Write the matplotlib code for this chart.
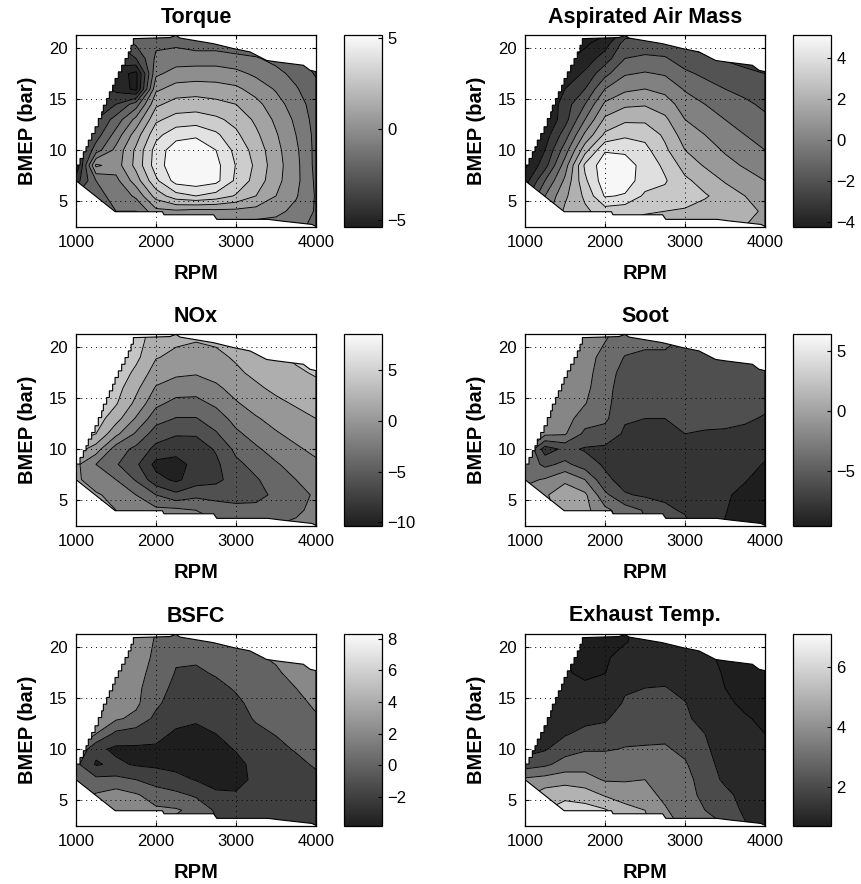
import numpy as np
import matplotlib.pyplot as plt
from matplotlib.path import Path
from matplotlib.patches import PathPatch
from matplotlib.colors import LinearSegmentedColormap, Normalize
from matplotlib.cm import ScalarMappable

plt.rcParams['font.family'] = ['Liberation Sans', 'DejaVu Sans']
plt.rcParams['contour.negative_linestyle'] = 'solid'

# grid of the map: one list per RPM column, values over BMEP
rpm = [1000, 1250, 1500, 1750, 2000, 2250, 2500, 2750, 3000, 3250, 3500, 3750, 4000]
bmep = [2.5, 4, 5.5, 7, 8.5, 10, 11.5, 13, 14.5, 16, 17.5, 19, 20.5, 22]

# operating envelope of the engine
# lower edge + right edge + top edge (1000 rpm tip -> top left corner)
env_rpm = [1000, 1490, 2080, 2100, 2720, 2760, 3400, 3550, 3950, 4000, 4000, 3925,
           3842, 3508, 3383, 3175, 2967, 2717, 2300, 2250, 2175]
env_bmep = [7.0, 3.95, 3.95, 3.65, 3.65, 3.2, 3.2, 3.05, 2.7, 2.5, 17.7, 17.84,
            18.33, 18.66, 18.8, 19.64, 19.97, 20.45, 21.0, 21.27, 21.05]
# stepped full-load edge on the left side
stair_rpm = [1000, 1050, 1092, 1125, 1154, 1196, 1238, 1279, 1321, 1342, 1383,
             1417, 1458, 1488, 1529, 1571, 1613, 1654, 1688, 1717, 1750]
stair_bmep = [7.71, 8.53, 9.18, 9.84, 10.33, 10.98, 11.63, 12.29, 13.1, 13.76, 14.41,
              15.07, 15.72, 16.37, 17.03, 17.68, 18.33, 18.99, 19.64, 20.29, 20.95]

torque = [
    [-2.0, -2.0, -2.0, -3.5, -5.0, -4.0, -4.0, -4.0, -4.0, -4.0, -4.0, -4.0, -4.0, -4.0],
    [-2.0, -1.5, -1.2, -1.0, 1.2, -1.5, -2.5, -3.0, -3.0, -3.0, -3.0, -3.0, -3.0, -3.0],
    [-2.0, -1.0, -0.8, -0.3, 0.5, 0.3, -0.6, -1.6, -3.0, -4.3, -4.5, -3.5, -3.0, -3.0],
    [-2.0, -1.0, 0.2, 1.5, 2.3, 2.2, 1.5, 0.3, -1.5, -5.3, -5.3, -3.0, -1.8, -1.5],
    [-0.5, 0.7, 2.4, 3.8, 4.5, 4.4, 3.7, 2.8, 1.8, 0.8, -0.2, -0.8, -1.2, -1.8],
    [-0.5, 0.8, 3.6, 5.4, 5.7, 5.6, 4.6, 3.4, 2.4, 1.4, 0.4, -0.5, -1.2, -2.0],
    [-0.5, 0.6, 4.0, 5.6, 5.9, 5.8, 4.8, 3.5, 2.5, 1.5, 0.5, -0.5, -1.5, -2.5],
    [-0.5, 0.7, 3.6, 5.3, 5.3, 5.0, 4.2, 3.2, 2.3, 1.4, 0.5, -0.5, -1.5, -2.5],
    [-0.5, 0.7, 2.9, 3.8, 3.95, 3.7, 3.2, 2.7, 2.0, 1.2, 0.3, -0.7, -1.7, -2.5],
    [-0.5, 0.6, 2.0, 2.6, 2.8, 2.6, 2.2, 1.8, 1.3, 0.6, -0.2, -0.9, -1.8, -2.5],
    [-0.5, 0.3, 1.0, 1.3, 1.4, 1.3, 1.1, 0.8, 0.4, -0.1, -0.7, -1.3, -2.0, -2.5],
    [-0.8, -0.3, 0.1, 0.3, 0.3, 0.2, 0.0, -0.2, -0.5, -0.9, -1.3, -1.8, -2.3, -3.0],
    [-1.2, -1.1, -1.1, -1.2, -1.3, -1.3, -1.3, -1.4, -1.5, -1.7, -2.1, -2.5, -3.0, -3.5],
]

air_mass = [
    [-1.5, -1.5, -2.5, -3.5, -4.2, -4.2, -4.2, -4.2, -4.2, -4.2, -4.2, -4.2, -4.2, -4.2],
    [0.5, 0.5, 0.0, -1.0, -2.4, -3.0, -3.5, -4.0, -4.0, -4.0, -4.0, -4.0, -4.0, -4.0],
    [1.5, 2.2, 1.8, 1.2, 0.5, -0.5, -1.5, -2.4, -2.5, -3.0, -3.8, -4.2, -4.3, -4.3],
    [2.5, 2.8, 3.2, 3.8, 4.2, 2.6, 1.2, 0.0, -1.0, -2.0, -2.8, -3.6, -4.2, -4.5],
    [3.0, 3.5, 5.1, 5.6, 5.6, 4.9, 3.2, 2.2, 1.2, 0.0, -1.3, -2.5, -3.5, -4.5],
    [2.8, 3.3, 4.9, 5.5, 5.5, 4.8, 3.8, 2.8, 1.8, 0.8, -0.1, -1.0, -1.6, -3.0],
    [2.6, 3.1, 3.8, 4.5, 4.6, 4.3, 3.7, 2.8, 1.9, 1.0, 0.1, -0.8, -1.6, -2.5],
    [2.4, 3.0, 3.7, 4.1, 3.8, 3.2, 2.8, 2.2, 1.5, 0.7, -0.1, -0.9, -1.7, -2.5],
    [2.2, 2.9, 3.4, 3.2, 2.6, 2.0, 1.5, 1.0, 0.5, -0.1, -0.8, -1.5, -2.2, -3.0],
    [2.0, 2.6, 3.1, 2.6, 1.9, 1.4, 1.0, 0.5, 0.0, -0.6, -1.2, -1.8, -2.5, -3.0],
    [2.0, 2.5, 2.6, 1.9, 1.3, 0.9, 0.5, 0.0, -0.5, -1.0, -1.5, -2.1, -2.7, -3.3],
    [2.0, 2.2, 2.0, 1.4, 0.9, 0.4, 0.0, -0.4, -0.8, -1.3, -1.8, -2.3, -2.9, -3.4],
    [1.9, 1.9, 1.6, 1.0, 0.5, 0.0, -0.4, -0.8, -1.2, -1.6, -2.0, -2.5, -3.0, -3.5],
]

nox = [
    [1.0, 1.0, 0.8, 0.3, 0.5, 3.0, 5.0, 5.0, 5.0, 5.0, 5.0, 5.0, 5.0, 5.0],
    [0.5, 0.5, 0.2, -0.8, -2.0, 1.0, 4.0, 5.0, 5.5, 5.5, 5.5, 5.5, 5.5, 5.5],
    [0.0, 0.0, -0.5, -2.0, -3.8, -3.0, 0.5, 2.8, 4.2, 4.8, 5.5, 5.5, 5.5, 5.5],
    [-0.5, -1.0, -2.0, -4.2, -5.6, -4.5, -2.3, -0.2, 1.5, 2.5, 3.5, 4.5, 5.0, 5.5],
    [-1.0, -1.5, -4.0, -7.3, -8.6, -6.6, -5.0, -3.2, -1.5, -0.2, 1.1, 2.1, 2.6, 3.0],
    [-1.0, -1.5, -5.5, -8.4, -8.7, -7.3, -5.8, -4.1, -2.6, -1.0, 0.4, 1.6, 2.2, 2.6],
    [-1.5, -2.0, -4.5, -7.0, -7.4, -7.0, -5.8, -4.1, -2.6, -1.2, 0.2, 1.3, 2.0, 2.4],
    [-1.8, -2.5, -5.0, -6.4, -6.4, -5.8, -4.2, -3.0, -1.6, -0.4, 0.8, 1.6, 2.2, 2.6],
    [-2.0, -3.2, -5.0, -5.3, -4.5, -3.5, -2.4, -1.3, -0.2, 0.8, 1.7, 2.2, 2.8, 3.2],
    [-2.2, -3.4, -4.6, -4.2, -3.3, -2.3, -1.2, -0.2, 0.9, 1.7, 2.4, 3.0, 3.6, 4.0],
    [-2.0, -2.8, -3.6, -3.0, -2.2, -1.2, -0.2, 0.7, 1.6, 2.4, 3.0, 3.7, 4.3, 4.5],
    [-1.8, -2.2, -2.5, -2.0, -1.2, -0.3, 0.6, 1.4, 2.2, 3.0, 3.7, 4.3, 4.8, 5.0],
    [-1.5, -1.7, -1.8, -1.3, -0.4, 0.5, 1.3, 2.0, 2.8, 3.5, 4.2, 4.8, 5.2, 5.5],
]

soot = [
    [-1.0, -1.0, -1.2, -2.5, -2.5, -1.5, -1.0, -1.0, -1.0, -1.0, -1.0, -1.0, -1.0, -1.0],
    [-0.5, -0.6, -0.2, -1.8, -4.5, -7.0, -1.5, -1.0, -1.0, -1.0, -1.0, -1.0, -1.0, -1.0],
    [0.5, 0.8, 0.9, -0.3, -3.5, -5.5, -1.8, -1.2, -1.0, -0.8, -0.8, -0.8, -0.8, -0.8],
    [0.6, 0.6, 0.4, -2.0, -5.0, -6.2, -4.5, -3.0, -1.9, -1.5, -1.2, -1.0, -0.8, -0.5],
    [-1.0, -1.5, -3.5, -5.5, -6.3, -6.4, -4.8, -3.6, -3.4, -3.3, -3.2, -2.8, -2.0, -1.5],
    [-2.5, -3.0, -5.8, -6.8, -6.9, -6.7, -6.3, -5.8, -5.3, -5.0, -4.6, -4.1, -3.3, -2.5],
    [-3.8, -4.2, -6.3, -7.0, -7.0, -6.9, -6.5, -6.0, -5.3, -5.0, -4.7, -4.2, -3.8, -3.0],
    [-4.8, -5.7, -6.3, -6.8, -6.8, -6.6, -6.4, -6.0, -5.0, -4.6, -4.4, -4.2, -3.8, -3.5],
    [-5.5, -6.2, -6.8, -6.9, -6.8, -6.6, -6.0, -5.3, -4.9, -4.7, -4.5, -4.3, -4.2, -4.0],
    [-7.2, -7.3, -7.2, -7.0, -6.9, -6.7, -6.2, -5.4, -5.0, -4.8, -4.6, -4.5, -4.5, -4.5],
    [-8.1, -7.9, -7.8, -7.5, -7.2, -6.9, -6.3, -5.4, -5.0, -4.8, -4.7, -4.7, -4.7, -4.7],
    [-9.0, -8.8, -8.4, -7.9, -7.5, -7.1, -6.5, -5.7, -5.2, -5.0, -4.9, -4.8, -4.8, -4.8],
    [-9.3, -9.2, -9.0, -8.6, -8.1, -7.6, -7.0, -6.2, -5.5, -5.2, -5.0, -5.0, -5.0, -5.0],
]

bsfc = [
    [1.0, 1.0, 1.0, 0.5, 0.5, 2.0, 3.0, 3.0, 3.0, 3.0, 3.0, 3.0, 3.0, 3.0],
    [1.5, 1.8, 2.2, 0.5, -2.2, -1.5, 2.0, 3.0, 3.0, 3.0, 3.0, 3.0, 3.0, 3.0],
    [2.6, 2.8, 3.0, 0.5, -1.6, -2.4, -0.5, 2.3, 2.8, 3.0, 3.2, 3.2, 3.2, 3.2],
    [2.5, 2.6, 2.2, 0.0, -2.2, -2.3, -1.0, 1.5, 2.4, 2.5, 2.8, 3.0, 3.2, 3.4],
    [2.0, 2.3, 1.2, -1.0, -2.3, -2.2, -1.6, -0.5, 0.4, 0.8, 1.2, 1.6, 1.8, 2.0],
    [1.5, 2.2, 0.5, -1.5, -2.5, -2.6, -2.2, -1.6, -1.0, -0.5, -0.1, 0.2, 0.5, 0.8],
    [1.0, 1.5, -0.3, -2.1, -2.6, -2.7, -2.4, -1.8, -1.2, -0.7, -0.3, 0.3, 0.6, 1.0],
    [0.2, -0.3, -1.8, -2.4, -2.6, -2.5, -2.0, -1.5, -1.0, -0.5, 0.2, 0.6, 1.0, 1.4],
    [-0.5, -1.0, -1.9, -2.3, -2.4, -1.9, -1.4, -0.8, -0.4, 0.2, 0.6, 1.0, 1.4, 1.8],
    [-1.0, -1.4, -1.8, -1.8, -1.6, -1.2, -0.5, 0.2, 0.6, 1.0, 1.4, 1.8, 2.1, 2.4],
    [-1.5, -1.6, -1.7, -1.6, -1.3, -0.6, 0.1, 0.6, 0.9, 1.4, 1.8, 2.2, 2.5, 2.7],
    [-1.6, -1.6, -1.5, -1.2, -0.6, 0.2, 0.7, 1.1, 1.5, 2.0, 2.5, 2.8, 3.0, 3.2],
    [-1.5, -1.4, -1.2, -0.6, 0.3, 0.8, 1.3, 1.8, 2.3, 2.8, 3.2, 3.5, 3.8, 4.0],
]

exhaust_temp = [
    [5.5, 5.0, 4.8, 4.2, 2.5, 1.6, 1.4, 1.3, 1.2, 1.2, 1.2, 1.2, 1.2, 1.2],
    [6.5, 6.0, 5.5, 4.4, 2.8, 1.9, 1.6, 1.5, 1.3, 1.3, 1.3, 1.3, 1.3, 1.3],
    [7.0, 6.5, 5.7, 4.6, 3.4, 2.6, 1.9, 1.5, 1.3, 1.15, 1.05, 1.05, 1.05, 1.05],
    [6.6, 6.4, 5.5, 4.4, 3.6, 2.9, 2.3, 1.7, 1.4, 1.1, 0.9, 0.75, 0.7, 0.7],
    [6.3, 6.1, 4.9, 3.9, 3.6, 2.9, 2.3, 1.9, 1.5, 1.3, 0.98, 0.85, 0.8, 0.8],
    [5.6, 5.3, 4.6, 3.9, 3.5, 3.05, 2.7, 2.4, 2.1, 1.9, 1.6, 1.4, 0.95, 0.9],
    [5.3, 5.0, 4.3, 4.0, 3.4, 3.1, 2.7, 2.45, 2.25, 2.0, 1.6, 1.4, 1.3, 1.2],
    [4.2, 4.1, 3.8, 3.5, 3.3, 3.1, 2.8, 2.4, 2.2, 2.05, 1.6, 1.4, 1.3, 1.2],
    [3.9, 3.5, 3.3, 3.3, 3.1, 2.8, 2.5, 2.2, 2.05, 1.7, 1.5, 1.3, 1.2, 1.1],
    [3.3, 3.0, 2.8, 2.6, 2.4, 2.2, 2.0, 1.6, 1.4, 1.3, 1.2, 1.1, 1.0, 1.0],
    [3.0, 2.6, 2.3, 1.8, 1.6, 1.4, 1.3, 1.2, 1.1, 1.0, 0.95, 0.9, 0.9, 0.9],
    [2.1, 1.8, 1.6, 1.4, 1.3, 1.2, 1.1, 1.05, 0.9, 0.85, 0.8, 0.8, 0.8, 0.8],
    [1.8, 1.5, 1.3, 1.2, 1.1, 1.05, 1.0, 0.9, 0.8, 0.75, 0.7, 0.7, 0.7, 0.7],
]

titles = ["Torque", "Aspirated Air Mass", "NOx", "Soot", "BSFC", "Exhaust Temp."]
fields = [torque, air_mass, nox, soot, bsfc, exhaust_temp]
clims = [(-5.38, 5.16), (-4.25, 5.15), (-10.36, 8.58), (-9.6, 6.4), (-3.84, 8.3), (0.69, 7.12)]
contour_levels = [
    [-5, -4, -3, -2, -1, 0, 1, 2, 3, 4, 5],
    [-4, -3, -2, -1, 0, 1, 2, 3, 4, 5],
    [-10, -8, -6, -4, -2, 0, 2, 4, 6, 8],
    [-8, -6, -4, -2, 0, 2, 4, 6],
    [-2, 0, 2, 4, 6, 8],
    [1, 2, 3, 4, 5, 6, 7],
]
cbar_ticks = [[-5, 0, 5], [-4, -2, 0, 2, 4], [-10, -5, 0, 5], [-5, 0, 5],
              [-2, 0, 2, 4, 6, 8], [2, 4, 6]]

# layout (figure fractions)
W, H = 861, 884
ax_left = [76 / W, 525 / W]
ax_w = 240 / W
ax_bottom = [1 - 227 / H, 1 - 526 / H, 1 - 826 / H]
ax_h = 192 / H
cb_left = [344 / W, 793 / W]
cb_w = 38 / W

cmap = LinearSegmentedColormap.from_list("print_gray", ["#1e1e1e", "#fafafa"])

# build the envelope outline: lower/right/top edge, then the stairs back down
verts = list(zip(env_rpm, env_bmep))
steps = []
for k in range(len(stair_rpm) - 1):
    steps.append((stair_rpm[k], stair_bmep[k]))
    steps.append((stair_rpm[k], stair_bmep[k + 1]))
steps.append((stair_rpm[-1], stair_bmep[-1]))
verts += steps[::-1]
verts.append(verts[0])
envelope = Path(np.array(verts, dtype=float))

fig = plt.figure(figsize=(W / 100, H / 100), dpi=100)

for i, (title, z, clim, levels, cticks) in enumerate(zip(titles, fields, clims,
                                                          contour_levels, cbar_ticks)):
    row, col = divmod(i, 2)
    ax = fig.add_axes([ax_left[col], ax_bottom[row], ax_w, ax_h])
    cax = fig.add_axes([cb_left[col], ax_bottom[row], cb_w, ax_h])

    norm = Normalize(*clim)
    Z = np.array(z).T
    # matlab style: each band takes the colour of its lower level
    fill_colors = [cmap(norm(clim[0]))] + [cmap(norm(l)) for l in levels]
    cf = ax.contourf(rpm, bmep, Z, levels=[-1e3] + levels + [1e3], colors=fill_colors)
    cl = ax.contour(rpm, bmep, Z, levels=levels, colors="k", linewidths=0.65,
                    linestyles="solid")

    patch = PathPatch(envelope, facecolor="none", edgecolor="k", lw=0.8, zorder=2.2)
    ax.add_patch(patch)
    cf.set_clip_path(patch)
    cl.set_clip_path(patch)

    ax.set_xlim(1000, 4000)
    ax.set_ylim(2.45, 21.3)
    ax.set_xticks([1000, 2000, 3000, 4000])
    ax.set_yticks([5, 10, 15, 20])
    ax.set_axisbelow(False)
    ax.grid(True, ls=(0, (1, 4)), color="k", lw=0.7)
    ax.tick_params(direction="in", length=3, labelsize=12, pad=6,
                   top=True, right=True)
    for s in ax.spines.values():
        s.set_linewidth(0.9)
    ax.set_title(title, fontsize=15.5, fontweight="bold", pad=9)
    ax.set_xlabel("RPM", fontsize=14.5, fontweight="bold", labelpad=10)
    ax.set_ylabel("BMEP (bar)", fontsize=14.5, fontweight="bold", labelpad=9)

    cb = fig.colorbar(ScalarMappable(norm=norm, cmap=cmap), cax=cax, ticks=cticks)
    cb.outline.set_linewidth(0.9)
    cax.tick_params(direction="in", length=3, labelsize=12, pad=4)

fig.savefig("out.png", dpi=100)
